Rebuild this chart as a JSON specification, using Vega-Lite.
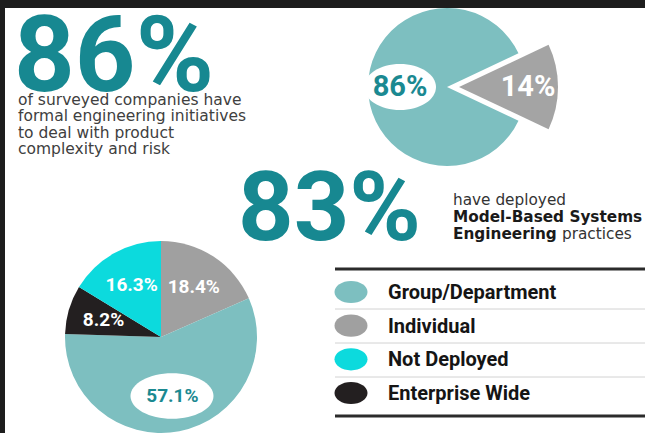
{
  "$schema": "https://vega.github.io/schema/vega-lite/v6.json",
  "width": 645,
  "height": 433,
  "autosize": {"type": "none"},
  "padding": 0,
  "background": "#ffffff",
  "config": {"view": {"stroke": null}},
  "datasets": {
    "formal": [
      {"group": "Formal initiatives", "value": 86, "label": "86%", "order": 1},
      {"group": "No formal initiatives", "value": 14, "label": "14%", "order": 2}
    ],
    "mbse": [
      {"category": "Individual", "value": 18.4, "label": "18.4%", "order": 1},
      {"category": "Group/Department", "value": 57.1, "label": "57.1%", "order": 2},
      {"category": "Enterprise Wide", "value": 8.2, "label": "8.2%", "order": 3},
      {"category": "Not Deployed", "value": 16.3, "label": "16.3%", "order": 4}
    ]
  },
  "data": {"values": [{}]},
  "layer": [
    {
      "data": {"name": "mbse"},
      "layer": [
        {
          "mark": {"type": "arc", "radius": 96},
          "encoding": {
            "x": {"datum": 161, "type": "quantitative", "scale": {"domain": [0, 645], "nice": false, "zero": false}, "axis": null},
            "y": {"datum": 337, "type": "quantitative", "scale": {"domain": [0, 433], "nice": false, "zero": false, "reverse": true}, "axis": null},
            "theta": {"field": "value", "type": "quantitative", "stack": true},
            "order": {"field": "order", "type": "quantitative"},
            "color": {"field": "category", "type": "nominal", "scale": {"domain": ["Group/Department", "Individual", "Not Deployed", "Enterprise Wide"], "range": ["#7dbfc0", "#a0a0a0", "#0cdadd", "#231f20"]}, "legend": null}
          }
        },
        {
          "data": {"values": [{}]},
          "mark": {"type": "point", "shape": "M -1 0 A 1 0.55 0 1 1 1 0 A 1 0.55 0 1 1 -1 0 Z", "size": 6889, "filled": true, "opacity": 1, "color": "#ffffff"},
          "encoding": {
            "x": {"datum": 172, "type": "quantitative", "scale": {"domain": [0, 645], "nice": false, "zero": false}, "axis": null},
            "y": {"datum": 396, "type": "quantitative", "scale": {"domain": [0, 433], "nice": false, "zero": false, "reverse": true}, "axis": null}
          }
        },
        {
          "mark": {"type": "text", "radius": 60, "font": "Roboto", "fontWeight": "bold", "fontSize": 19, "align": "center", "baseline": "middle"},
          "encoding": {
            "x": {"datum": 161, "type": "quantitative", "scale": {"domain": [0, 645], "nice": false, "zero": false}, "axis": null},
            "y": {"datum": 337, "type": "quantitative", "scale": {"domain": [0, 433], "nice": false, "zero": false, "reverse": true}, "axis": null},
            "theta": {"field": "value", "type": "quantitative", "stack": true},
            "order": {"field": "order", "type": "quantitative"},
            "detail": {"field": "category", "type": "nominal"},
            "text": {"field": "label", "type": "nominal"},
            "color": {"condition": {"test": "datum.category === 'Group/Department'", "value": "#1b8991"}, "value": "#ffffff"}
          }
        }
      ]
    },
    {
      "data": {"name": "formal"},
      "layer": [
        {
          "mark": {"type": "arc", "radius": 79},
          "encoding": {
            "x": {"datum": 447, "type": "quantitative", "scale": {"domain": [0, 645], "nice": false, "zero": false}, "axis": null},
            "y": {"datum": 87, "type": "quantitative", "scale": {"domain": [0, 433], "nice": false, "zero": false, "reverse": true}, "axis": null},
            "theta": {"field": "value", "type": "quantitative", "stack": true, "scale": {"range": [2.0106, 8.2938]}},
            "order": {"field": "order", "type": "quantitative"},
            "detail": {"field": "group", "type": "nominal"},
            "color": {"condition": {"test": "datum.group === 'Formal initiatives'", "value": "#7dbfc0"}, "value": "transparent"}
          }
        },
        {
          "mark": {"type": "arc", "radius": 99},
          "encoding": {
            "x": {"datum": 459, "type": "quantitative", "scale": {"domain": [0, 645], "nice": false, "zero": false}, "axis": null},
            "y": {"datum": 87, "type": "quantitative", "scale": {"domain": [0, 433], "nice": false, "zero": false, "reverse": true}, "axis": null},
            "theta": {"field": "value", "type": "quantitative", "stack": true, "scale": {"range": [2.0106, 8.2938]}},
            "order": {"field": "order", "type": "quantitative"},
            "detail": {"field": "group", "type": "nominal"},
            "color": {"condition": {"test": "datum.group === 'No formal initiatives'", "value": "#a4a4a4"}, "value": "transparent"}
          }
        },
        {
          "data": {"values": [{}]},
          "mark": {"type": "point", "shape": "M -1 0 A 1 0.64 0 1 1 1 0 A 1 0.64 0 1 1 -1 0 Z", "size": 5184, "filled": true, "opacity": 1, "color": "#ffffff"},
          "encoding": {
            "x": {"datum": 400, "type": "quantitative", "scale": {"domain": [0, 645], "nice": false, "zero": false}, "axis": null},
            "y": {"datum": 87, "type": "quantitative", "scale": {"domain": [0, 433], "nice": false, "zero": false, "reverse": true}, "axis": null}
          }
        },
        {
          "mark": {"type": "text", "radius": 47, "font": "Roboto", "fontWeight": "bold", "fontSize": 29, "align": "center", "baseline": "middle", "color": "#1b8991"},
          "encoding": {
            "x": {"datum": 447, "type": "quantitative", "scale": {"domain": [0, 645], "nice": false, "zero": false}, "axis": null},
            "y": {"datum": 87, "type": "quantitative", "scale": {"domain": [0, 433], "nice": false, "zero": false, "reverse": true}, "axis": null},
            "theta": {"field": "value", "type": "quantitative", "stack": true, "scale": {"range": [2.0106, 8.2938]}},
            "order": {"field": "order", "type": "quantitative"},
            "detail": {"field": "group", "type": "nominal"},
            "text": {"condition": {"test": "datum.group === 'Formal initiatives'", "field": "label", "type": "nominal"}, "value": ""}
          }
        },
        {
          "mark": {"type": "text", "radius": 69, "font": "Roboto", "fontWeight": "bold", "fontSize": 29, "align": "center", "baseline": "middle", "color": "#ffffff"},
          "encoding": {
            "x": {"datum": 459, "type": "quantitative", "scale": {"domain": [0, 645], "nice": false, "zero": false}, "axis": null},
            "y": {"datum": 87, "type": "quantitative", "scale": {"domain": [0, 433], "nice": false, "zero": false, "reverse": true}, "axis": null},
            "theta": {"field": "value", "type": "quantitative", "stack": true, "scale": {"range": [2.0106, 8.2938]}},
            "order": {"field": "order", "type": "quantitative"},
            "detail": {"field": "group", "type": "nominal"},
            "text": {"condition": {"test": "datum.group === 'No formal initiatives'", "field": "label", "type": "nominal"}, "value": ""}
          }
        }
      ]
    },
    {
      "mark": {"type": "rule", "strokeWidth": 3, "color": "#2b2b2b"},
      "encoding": {
        "x": {"datum": 335, "type": "quantitative", "scale": {"domain": [0, 645], "nice": false, "zero": false}, "axis": null},
        "x2": {"datum": 645},
        "y": {"datum": 269, "type": "quantitative", "scale": {"domain": [0, 433], "nice": false, "zero": false, "reverse": true}, "axis": null}
      }
    },
    {
      "mark": {"type": "rule", "strokeWidth": 1, "color": "#d2d2d2"},
      "encoding": {
        "x": {"datum": 335, "type": "quantitative", "scale": {"domain": [0, 645], "nice": false, "zero": false}, "axis": null},
        "x2": {"datum": 645},
        "y": {"datum": 309, "type": "quantitative", "scale": {"domain": [0, 433], "nice": false, "zero": false, "reverse": true}, "axis": null}
      }
    },
    {
      "mark": {"type": "rule", "strokeWidth": 1, "color": "#d2d2d2"},
      "encoding": {
        "x": {"datum": 335, "type": "quantitative", "scale": {"domain": [0, 645], "nice": false, "zero": false}, "axis": null},
        "x2": {"datum": 645},
        "y": {"datum": 343, "type": "quantitative", "scale": {"domain": [0, 433], "nice": false, "zero": false, "reverse": true}, "axis": null}
      }
    },
    {
      "mark": {"type": "rule", "strokeWidth": 1, "color": "#d2d2d2"},
      "encoding": {
        "x": {"datum": 335, "type": "quantitative", "scale": {"domain": [0, 645], "nice": false, "zero": false}, "axis": null},
        "x2": {"datum": 645},
        "y": {"datum": 377, "type": "quantitative", "scale": {"domain": [0, 433], "nice": false, "zero": false, "reverse": true}, "axis": null}
      }
    },
    {
      "mark": {"type": "rule", "strokeWidth": 3, "color": "#2b2b2b"},
      "encoding": {
        "x": {"datum": 335, "type": "quantitative", "scale": {"domain": [0, 645], "nice": false, "zero": false}, "axis": null},
        "x2": {"datum": 645},
        "y": {"datum": 416, "type": "quantitative", "scale": {"domain": [0, 433], "nice": false, "zero": false, "reverse": true}, "axis": null}
      }
    },
    {
      "data": {"name": "mbse"},
      "layer": [
        {
          "mark": {"type": "point", "shape": "M -1 0 A 1 0.67 0 1 1 1 0 A 1 0.67 0 1 1 -1 0 Z", "size": 1089, "filled": true, "opacity": 1},
          "encoding": {
            "x": {"datum": 351, "type": "quantitative", "scale": {"domain": [0, 645], "nice": false, "zero": false}, "axis": null},
            "y": {"field": "category", "type": "nominal", "scale": {"type": "point", "domain": ["Group/Department", "Individual", "Not Deployed", "Enterprise Wide"], "range": [292, 393], "padding": 0}, "axis": null},
            "color": {"field": "category", "type": "nominal", "scale": {"domain": ["Group/Department", "Individual", "Not Deployed", "Enterprise Wide"], "range": ["#7dbfc0", "#a0a0a0", "#0cdadd", "#231f20"]}, "legend": null}
          }
        },
        {
          "mark": {"type": "text", "align": "left", "baseline": "alphabetic", "dy": 7, "font": "Roboto", "fontWeight": "bold", "fontSize": 20, "color": "#151515"},
          "encoding": {
            "x": {"datum": 388, "type": "quantitative", "scale": {"domain": [0, 645], "nice": false, "zero": false}, "axis": null},
            "y": {"field": "category", "type": "nominal", "scale": {"type": "point", "domain": ["Group/Department", "Individual", "Not Deployed", "Enterprise Wide"], "range": [292, 393], "padding": 0}, "axis": null},
            "text": {"field": "category", "type": "nominal"}
          }
        }
      ]
    },
    {
      "mark": {"type": "text", "align": "left", "baseline": "alphabetic", "font": "Roboto", "fontWeight": "bold", "fontSize": 106, "color": "#178891"},
      "encoding": {
        "x": {"datum": 14, "type": "quantitative", "scale": {"domain": [0, 645], "nice": false, "zero": false}, "axis": null},
        "y": {"datum": 91, "type": "quantitative", "scale": {"domain": [0, 433], "nice": false, "zero": false, "reverse": true}, "axis": null},
        "text": {"value": "86%"}
      }
    },
    {
      "mark": {"type": "text", "align": "left", "baseline": "alphabetic", "font": "DejaVu Sans", "fontSize": 15.5, "lineHeight": 16.4, "lineBreak": "\n", "color": "#404040"},
      "encoding": {
        "x": {"datum": 18, "type": "quantitative", "scale": {"domain": [0, 645], "nice": false, "zero": false}, "axis": null},
        "y": {"datum": 105, "type": "quantitative", "scale": {"domain": [0, 433], "nice": false, "zero": false, "reverse": true}, "axis": null},
        "text": {"value": "of surveyed companies have\nformal engineering initiatives\nto deal with product\ncomplexity and risk"}
      }
    },
    {
      "mark": {"type": "text", "align": "left", "baseline": "alphabetic", "font": "Roboto", "fontWeight": "bold", "fontSize": 97, "color": "#178891"},
      "encoding": {
        "x": {"datum": 238, "type": "quantitative", "scale": {"domain": [0, 645], "nice": false, "zero": false}, "axis": null},
        "y": {"datum": 240, "type": "quantitative", "scale": {"domain": [0, 433], "nice": false, "zero": false, "reverse": true}, "axis": null},
        "text": {"value": "83%"}
      }
    },
    {
      "mark": {"type": "text", "align": "left", "baseline": "alphabetic", "font": "DejaVu Sans", "fontSize": 15.3, "color": "#333333"},
      "encoding": {
        "x": {"datum": 453, "type": "quantitative", "scale": {"domain": [0, 645], "nice": false, "zero": false}, "axis": null},
        "y": {"datum": 205, "type": "quantitative", "scale": {"domain": [0, 433], "nice": false, "zero": false, "reverse": true}, "axis": null},
        "text": {"value": "have deployed"}
      }
    },
    {
      "mark": {"type": "text", "align": "left", "baseline": "alphabetic", "font": "DejaVu Sans", "fontWeight": "bold", "fontSize": 15.3, "color": "#1a1a1a"},
      "encoding": {
        "x": {"datum": 453, "type": "quantitative", "scale": {"domain": [0, 645], "nice": false, "zero": false}, "axis": null},
        "y": {"datum": 222, "type": "quantitative", "scale": {"domain": [0, 433], "nice": false, "zero": false, "reverse": true}, "axis": null},
        "text": {"value": "Model-Based Systems"}
      }
    },
    {
      "mark": {"type": "text", "align": "left", "baseline": "alphabetic", "font": "DejaVu Sans", "fontWeight": "bold", "fontSize": 15.3, "color": "#1a1a1a"},
      "encoding": {
        "x": {"datum": 453, "type": "quantitative", "scale": {"domain": [0, 645], "nice": false, "zero": false}, "axis": null},
        "y": {"datum": 239, "type": "quantitative", "scale": {"domain": [0, 433], "nice": false, "zero": false, "reverse": true}, "axis": null},
        "text": {"value": "Engineering"}
      }
    },
    {
      "mark": {"type": "text", "align": "left", "baseline": "alphabetic", "font": "DejaVu Sans", "fontSize": 15.3, "color": "#333333"},
      "encoding": {
        "x": {"datum": 562, "type": "quantitative", "scale": {"domain": [0, 645], "nice": false, "zero": false}, "axis": null},
        "y": {"datum": 239, "type": "quantitative", "scale": {"domain": [0, 433], "nice": false, "zero": false, "reverse": true}, "axis": null},
        "text": {"value": "practices"}
      }
    },
    {
      "mark": {"type": "rect", "color": "#1d1d1d", "opacity": 1},
      "encoding": {
        "x": {"datum": 0, "type": "quantitative", "scale": {"domain": [0, 645], "nice": false, "zero": false}, "axis": null},
        "x2": {"datum": 645},
        "y": {"datum": 0, "type": "quantitative", "scale": {"domain": [0, 433], "nice": false, "zero": false, "reverse": true}, "axis": null},
        "y2": {"datum": 8}
      }
    },
    {
      "mark": {"type": "rule", "strokeWidth": 5, "color": "#1d1d1d"},
      "encoding": {
        "x": {"datum": 2.5, "type": "quantitative", "scale": {"domain": [0, 645], "nice": false, "zero": false}, "axis": null},
        "y": {"datum": 0, "type": "quantitative", "scale": {"domain": [0, 433], "nice": false, "zero": false, "reverse": true}, "axis": null},
        "y2": {"datum": 433}
      }
    }
  ],
  "resolve": {"scale": {"x": "independent", "y": "independent", "theta": "independent", "color": "independent"}}
}
